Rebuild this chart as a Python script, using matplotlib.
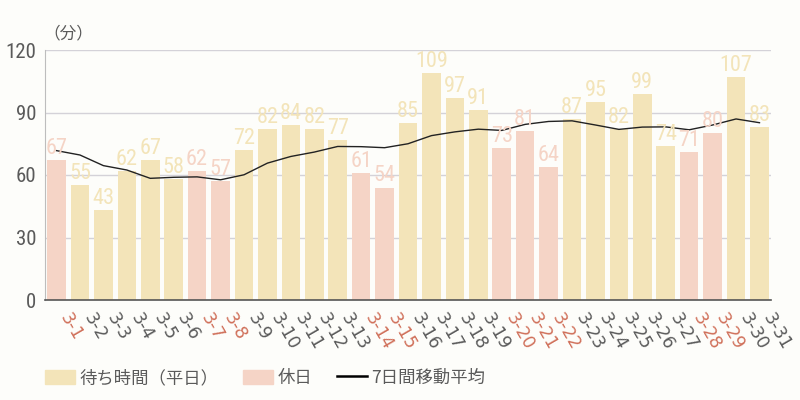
#!/usr/bin/env python3

import matplotlib
matplotlib.use('Agg')
import matplotlib.pyplot as plt
import matplotlib.patches as mpatches
import matplotlib.lines as mlines
from matplotlib import font_manager

# ---- data ----
days = [f'3-{d}' for d in range(1, 32)]
waits = [67, 55, 43, 62, 67, 58, 62, 57, 72, 82, 84, 82, 77, 61, 54, 85,
         109, 97, 91, 73, 81, 64, 87, 95, 82, 99, 74, 71, 80, 107, 83]
holidays = ['3-1', '3-7', '3-8', '3-14', '3-15', '3-20', '3-21', '3-22',
            '3-28', '3-29']
moving_avg = [71.7, 69.6, 64.5, 62.4, 58.4, 58.9, 59.1, 57.7, 60.1, 65.7,
              68.9, 71.0, 73.7, 73.6, 73.1, 75.0, 78.9, 80.7, 82.0, 81.4,
              84.3, 85.7, 86.0, 84.0, 81.9, 83.0, 83.1, 81.7, 84.0, 86.9,
              85.1]
yticks = [0, 30, 60, 90, 120]

WEEKDAY = '#f3e4b9'
HOLIDAY = '#f5d4c6'
HOL_TXT = '#d0705a'
GRAY = '#5a5a5a'
BG = '#fdfdfa'

# pick a narrow font for the numbers if one is around
fonts = font_manager.fontManager.ttflist
names = {f.name for f in fonts}
num_font, num_stretch = 'Roboto', 'normal'
for cand in ['Roboto Condensed', 'Liberation Sans Narrow', 'Open Sans Condensed']:
    if cand in names:
        num_font = cand
        break
else:
    if any(f.name == 'DejaVu Sans' and f.stretch == 'condensed' for f in fonts):
        num_font, num_stretch = 'DejaVu Sans', 'condensed'

plt.rcParams['font.family'] = ['Noto Sans CJK JP', 'DejaVu Sans']

fig = plt.figure(figsize=(8, 4), dpi=100)
fig.patch.set_facecolor(BG)
ax = fig.add_axes([0.056, 0.25, 0.908, 0.625])
ax.set_facecolor(BG)

x = list(range(len(days)))
colors = [HOLIDAY if d in holidays else WEEKDAY for d in days]
ax.bar(x, waits, width=0.79, color=colors, zorder=2)

for i, v in enumerate(waits):
    ax.text(i, v + 0.5, str(v), ha='center', va='bottom', fontsize=16,
            family=num_font, fontstretch=num_stretch, color=colors[i], zorder=4)

ax.plot(x, moving_avg, color='#222222', linewidth=1.0, zorder=3)

ax.set_xlim(-0.5, len(days) - 0.5)
ax.set_ylim(0, 120)
ax.set_yticks(yticks)
ax.set_yticklabels([str(t) for t in yticks], family=num_font,
                   fontstretch=num_stretch, fontsize=15, color=GRAY)
ax.grid(axis='y', color='#d4d2d8', linewidth=1.0, zorder=1)
ax.tick_params(axis='y', length=0, pad=6)
ax.tick_params(axis='x', length=0, pad=7)

ax.set_xticks(x)
ax.set_xticklabels(days, rotation=-60, ha='left', va='top', fontsize=12.5,
                   family='DejaVu Sans')
for lbl in ax.get_xticklabels():
    lbl.set_color(HOL_TXT if lbl.get_text() in holidays else GRAY)

for s in ['top', 'right']:
    ax.spines[s].set_visible(False)
ax.spines['left'].set_color('#bdbdbd')
ax.spines['bottom'].set_color('#555555')
ax.spines['bottom'].set_linewidth(1.2)

fig.text(0.054, 0.915, '（分）', ha='left', va='center', fontsize=12, color=GRAY)

handles = [mpatches.Patch(color=WEEKDAY, label='待ち時間（平日）'),
           mpatches.Patch(color=HOLIDAY, label='休日'),
           mlines.Line2D([], [], color='black', linewidth=1.8, label='7日間移動平均')]
leg = fig.legend(handles=handles, loc='center left', bbox_to_anchor=(0.056, 0.055),
                 ncol=3, frameon=False, fontsize=12.5, handlelength=1.75,
                 handleheight=0.9, handletextpad=0.25, columnspacing=1.4,
                 borderpad=0, borderaxespad=0)
for t in leg.get_texts():
    t.set_color(GRAY)

plt.savefig('out.png', dpi=100, facecolor=BG)
